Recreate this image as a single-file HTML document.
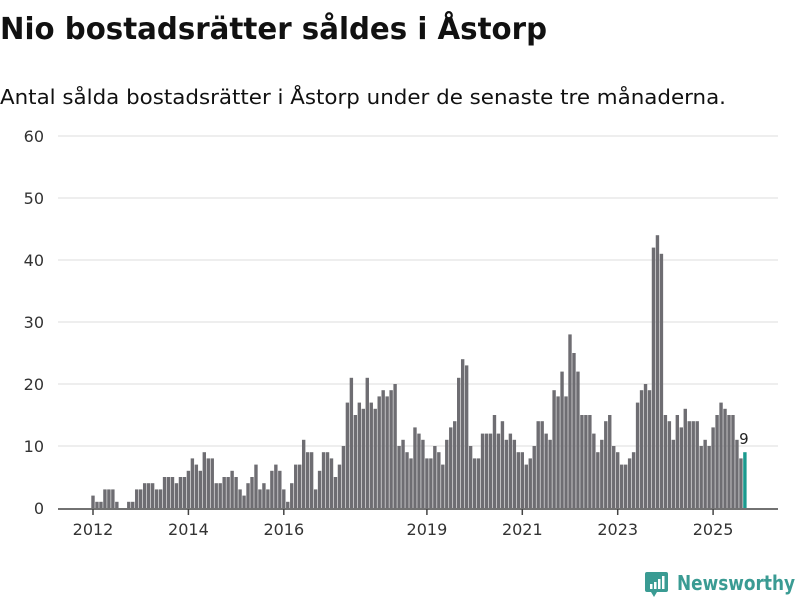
<!DOCTYPE html>
<html><head><meta charset="utf-8"><style>
body{margin:0;width:800px;height:600px;background:#fff;overflow:hidden;font-family:"DejaVu Sans","Liberation Sans",sans-serif}
svg{position:absolute;left:0;top:0}
</style></head><body>
<svg width="800" height="600">
<text x="0" y="39" font-size="30" font-weight="bold" fill="#111" textLength="547" lengthAdjust="spacingAndGlyphs">Nio bostadsrätter såldes i Åstorp</text>
<text x="0" y="104" font-size="20" fill="#111" textLength="726" lengthAdjust="spacingAndGlyphs">Antal sålda bostadsrätter i Åstorp under de senaste tre månaderna.</text>
<g id="grid"></g><g id="bars"></g><g id="axis"></g>
<g>
<rect x="645" y="572" width="23" height="20" rx="2" fill="#3a9b93"/>
<polygon points="651,592 657,592 654,597" fill="#3a9b93"/>
<rect x="650" y="584" width="2.5" height="5" fill="#fff"/><rect x="654" y="582" width="2.5" height="7" fill="#fff"/><rect x="658" y="579" width="2.5" height="10" fill="#fff"/><rect x="662" y="576" width="2.5" height="13" fill="#fff"/>
<text x="677" y="590" font-size="20" font-weight="bold" fill="#3a9b93" textLength="118" lengthAdjust="spacingAndGlyphs">Newsworthy</text>
</g>
</svg>
<script>
const years=[2012,2013,2014,2015,2016,2017,2018,2019,2020,2021,2022,2023,2024,2025];
const values=[
2,1,1,3,3,3,1,0,0,1,1,3,
3,4,4,4,3,3,5,5,5,4,5,5,
6,8,7,6,9,8,8,4,4,5,5,6,
5,3,2,4,5,7,3,4,3,6,7,6,
3,1,4,7,7,11,9,9,3,6,9,9,
8,5,7,10,17,21,15,17,16,21,17,16,
18,19,18,19,20,10,11,9,8,13,12,11,
8,8,10,9,7,11,13,14,21,24,23,10,
8,8,12,12,12,15,12,14,11,12,11,9,
9,7,8,10,14,14,12,11,19,18,22,18,
28,25,22,15,15,15,12,9,11,14,15,10,
9,7,7,8,9,17,19,20,19,42,44,41,
15,14,11,15,13,16,14,14,14,10,11,10,
13,15,17,16,15,15,11,8,9];
const yTicks=[0,10,20,30,40,50,60];
const xTickLabels=[2012,2014,2016,2019,2021,2023,2025];
const NS="http://www.w3.org/2000/svg";
const x=i=>93+i*3.975;
const y=v=>508-v*6.2;
function mk(t,a,p){const e=document.createElementNS(NS,t);for(const k in a)e.setAttribute(k,a[k]);p.appendChild(e);return e;}
const grid=document.getElementById('grid'),bars=document.getElementById('bars'),axis=document.getElementById('axis');
yTicks.forEach(v=>{
 if(v>0){const l=mk('line',{x1:58,x2:778,y1:y(v),y2:y(v),stroke:'#ddd','stroke-width':1},grid);
 
 }
 const t=mk('text',{x:44,y:y(v)+6,'font-size':16,fill:'#333','text-anchor':'end'},grid);t.textContent=v;
 
 
});
values.forEach((v,i)=>{
 const last=i===values.length-1;
 const r=mk('rect',{x:x(i)-1.7,y:y(v),width:3.4,height:v*6.2,fill:last?'#1a9a8e':'#6e6d72'},bars);
 
 
 if(last){const t=mk('text',{x:x(i)-1,y:y(v)-8,'font-size':15,fill:'#222','text-anchor':'middle'},bars);t.textContent=v;
 
 }
});
const base=mk('line',{x1:58,x2:778,y1:509,y2:509,stroke:'#444','stroke-width':1.5},axis);


xTickLabels.forEach(yr=>{
 const i=(yr-years[0])*12;
 mk('line',{x1:x(i),x2:x(i),y1:509,y2:515,stroke:'#444','stroke-width':1.5},axis);
 const t=mk('text',{x:x(i),y:535,'font-size':16,fill:'#333','text-anchor':'middle'},axis);t.textContent=yr;
 
 
});
</script>
</body></html>
